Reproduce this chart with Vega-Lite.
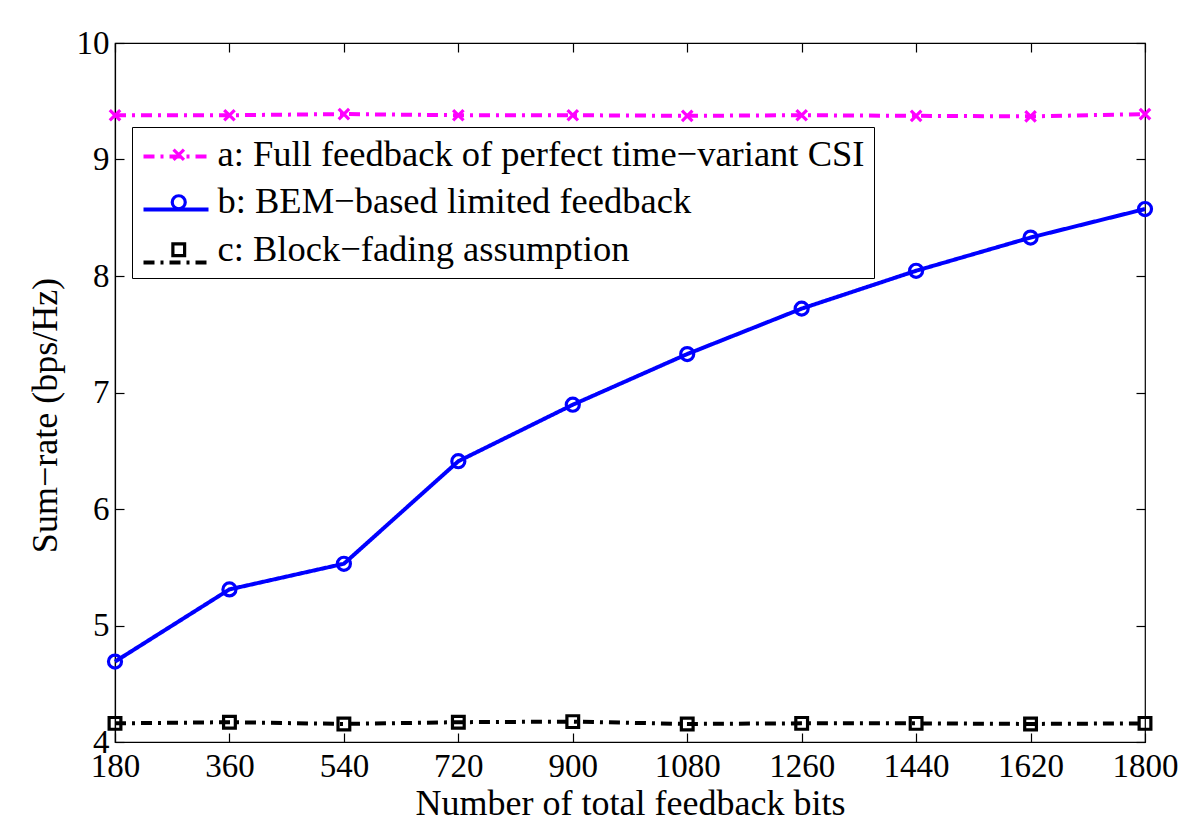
{
  "$schema": "https://vega.github.io/schema/vega-lite/v6.json",
  "width": 1030,
  "height": 699,
  "autosize": {"type": "none"},
  "padding": {"left": 115, "top": 43, "right": 55, "bottom": 91},
  "background": "white",
  "config": {
    "font": "Liberation Serif",
    "view": {"stroke": "black", "strokeWidth": 1.2},
    "axis": {
      "grid": false,
      "domainColor": "black",
      "domainWidth": 1.2,
      "tickColor": "black",
      "tickWidth": 1.2,
      "tickSize": -9,
      "labelColor": "black",
      "labelFont": "Liberation Serif",
      "labelFontSize": 33,
      "labelFlush": false,
      "labelOverlap": false,
      "titleFont": "Liberation Serif",
      "titleFontSize": 36,
      "titleFontWeight": "normal",
      "titleColor": "black"
    },
    "legend": {
      "orient": "none",
      "legendX": 17,
      "padding": 9.5,
      "labelFont": "Liberation Serif",
      "labelFontSize": 36.5,
      "labelColor": "black",
      "labelLimit": 2000,
      "title": null
    }
  },
  "data": {
    "values": [
      {"series": "a: Full feedback of perfect time−variant CSI", "bits": 180, "rate": 9.38},
      {"series": "a: Full feedback of perfect time−variant CSI", "bits": 360, "rate": 9.38},
      {"series": "a: Full feedback of perfect time−variant CSI", "bits": 540, "rate": 9.39},
      {"series": "a: Full feedback of perfect time−variant CSI", "bits": 720, "rate": 9.38},
      {"series": "a: Full feedback of perfect time−variant CSI", "bits": 900, "rate": 9.38},
      {"series": "a: Full feedback of perfect time−variant CSI", "bits": 1080, "rate": 9.375},
      {"series": "a: Full feedback of perfect time−variant CSI", "bits": 1260, "rate": 9.38},
      {"series": "a: Full feedback of perfect time−variant CSI", "bits": 1440, "rate": 9.375},
      {"series": "a: Full feedback of perfect time−variant CSI", "bits": 1620, "rate": 9.37},
      {"series": "a: Full feedback of perfect time−variant CSI", "bits": 1800, "rate": 9.39},
      {"series": "b: BEM−based limited feedback", "bits": 180, "rate": 4.69},
      {"series": "b: BEM−based limited feedback", "bits": 360, "rate": 5.31},
      {"series": "b: BEM−based limited feedback", "bits": 540, "rate": 5.53},
      {"series": "b: BEM−based limited feedback", "bits": 720, "rate": 6.41},
      {"series": "b: BEM−based limited feedback", "bits": 900, "rate": 6.895},
      {"series": "b: BEM−based limited feedback", "bits": 1080, "rate": 7.33},
      {"series": "b: BEM−based limited feedback", "bits": 1260, "rate": 7.72},
      {"series": "b: BEM−based limited feedback", "bits": 1440, "rate": 8.045},
      {"series": "b: BEM−based limited feedback", "bits": 1620, "rate": 8.33},
      {"series": "b: BEM−based limited feedback", "bits": 1800, "rate": 8.575},
      {"series": "c: Block−fading assumption", "bits": 180, "rate": 4.16},
      {"series": "c: Block−fading assumption", "bits": 360, "rate": 4.17},
      {"series": "c: Block−fading assumption", "bits": 540, "rate": 4.155},
      {"series": "c: Block−fading assumption", "bits": 720, "rate": 4.17},
      {"series": "c: Block−fading assumption", "bits": 900, "rate": 4.175},
      {"series": "c: Block−fading assumption", "bits": 1080, "rate": 4.155},
      {"series": "c: Block−fading assumption", "bits": 1260, "rate": 4.16},
      {"series": "c: Block−fading assumption", "bits": 1440, "rate": 4.16},
      {"series": "c: Block−fading assumption", "bits": 1620, "rate": 4.155},
      {"series": "c: Block−fading assumption", "bits": 1800, "rate": 4.16}
    ]
  },
  "layer": [
    {
      "mark": {"type": "line", "clip": false, "strokeWidth": 4},
      "encoding": {
        "x": {
          "field": "bits", "type": "quantitative",
          "scale": {"domain": [180, 1800], "nice": false, "zero": false},
          "axis": {"orient": "bottom", "values": [180, 360, 540, 720, 900, 1080, 1260, 1440, 1620, 1800], "format": "d", "labelPadding": 17, "title": "Number of total feedback bits", "titlePadding": 3}
        },
        "y": {
          "field": "rate", "type": "quantitative",
          "scale": {"domain": [4, 10], "nice": false, "zero": false},
          "axis": {"orient": "left", "values": [4, 5, 6, 7, 8, 9, 10], "format": "d", "labelPadding": 15, "title": "Sum−rate (bps/Hz)", "titlePadding": 12, "titleY": 372}
        },
        "color": {
          "field": "series", "type": "nominal",
          "scale": {"range": ["#FF00FF", "#0000FF", "#000000"]},
          "legend": {"legendY": 69.5, "rowPadding": -18.5, "labelExpr": "''", "symbolType": "stroke", "symbolSize": 4225, "symbolStrokeWidth": 4, "labelOffset": 0}
        },
        "strokeDash": {
          "field": "series", "type": "nominal",
          "scale": {"range": [[11, 6, 3, 6], [1, 0], [11, 6, 3, 6]]},
          "legend": {"legendY": 69.5, "rowPadding": -18.5, "labelExpr": "''", "symbolType": "stroke", "symbolSize": 4225, "symbolStrokeWidth": 4, "labelOffset": 0}
        }
      }
    },
    {
      "mark": {"type": "point", "filled": false, "clip": false, "opacity": 1, "strokeWidth": 3.2, "size": 170},
      "encoding": {
        "x": {
          "field": "bits", "type": "quantitative",
          "axis": {"orient": "top", "values": [180, 360, 540, 720, 900, 1080, 1260, 1440, 1620, 1800], "labels": false, "title": null, "domain": false}
        },
        "y": {
          "field": "rate", "type": "quantitative",
          "axis": {"orient": "right", "values": [4, 5, 6, 7, 8, 9, 10], "labels": false, "title": null, "domain": false}
        },
        "color": {
          "field": "series", "type": "nominal",
          "scale": {"range": ["#FF00FF", "#0000FF", "#000000"]},
          "legend": {"legendY": 84, "rowPadding": 10.5, "strokeColor": "black", "symbolOffset": 19, "symbolStrokeWidth": 3.2, "symbolSize": 170, "labelOffset": 20.5}
        },
        "shape": {
          "field": "series", "type": "nominal",
          "scale": {"range": ["M-0.8,-0.8L0.8,0.8M0.8,-0.8L-0.8,0.8", "circle", "M-0.9,-0.9H0.9V0.9H-0.9Z"]},
          "legend": {"legendY": 84, "rowPadding": 10.5, "strokeColor": "black", "symbolOffset": 19, "symbolStrokeWidth": 3.2, "symbolSize": 170, "labelOffset": 20.5}
        }
      }
    }
  ],
  "resolve": {"scale": {"color": "independent", "shape": "independent", "strokeDash": "independent"}, "axis": {"x": "independent", "y": "independent"}}
}
